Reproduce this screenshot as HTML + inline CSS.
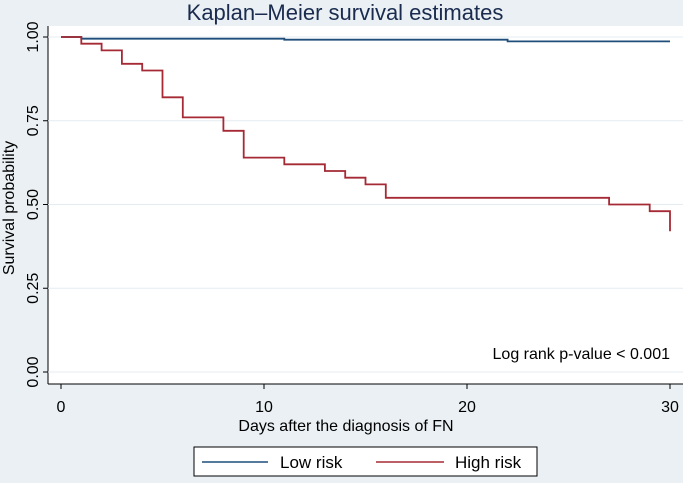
<!DOCTYPE html>
<html><head><meta charset="utf-8"><style>
body{margin:0;width:683px;height:478px;background:#eaf0f3;overflow:hidden;font-family:"Liberation Sans",sans-serif;}
</style></head><body>
<svg width="683" height="478" id="svg">
<rect x="48" y="26" width="635" height="358" fill="#fff"/>
<text x="345" y="20" text-anchor="middle" font-size="22" fill="#1a2b4f">Kaplan–Meier survival estimates</text>
<text transform="translate(14,208) rotate(-90)" text-anchor="middle" font-size="16" fill="#000">Survival probability</text>
<text x="346" y="431" text-anchor="middle" font-size="16" fill="#000">Days after the diagnosis of FN</text>
<text x="670" y="359" text-anchor="end" font-size="16" fill="#000">Log rank p-value &lt; 0.001</text>
<line x1="48" y1="26" x2="48" y2="384" stroke="#000" stroke-width="1"/>
<line x1="48" y1="384" x2="683" y2="384" stroke="#000" stroke-width="1"/>
<g id="grid"></g><g id="series"></g>
<g>
<rect x="194" y="447" width="343" height="29" fill="#fff" stroke="#000"/>
<line x1="202" y1="462" x2="268" y2="462" stroke="#1f4e7a" stroke-width="1.5"/>
<text x="280" y="468" font-size="17">Low risk</text>
<line x1="376" y1="462" x2="444" y2="462" stroke="#a52a35" stroke-width="1.5"/>
<text x="455" y="468" font-size="17">High risk</text>
</g>
</svg>
<script>
const xTicks=[0,10,20,30];
const yTicks=[0,0.25,0.5,0.75,1];
const yTickLabels=["0.00","0.25","0.50","0.75","1.00"];
const lowTimes=[0,1,11,22,30];
const lowSurv=[1,0.995,0.992,0.987,0.987];
const highTimes=[0,1,2,3,4,5,6,8,9,11,13,14,15,16,27,29,30];
const highSurv=[1,0.98,0.96,0.92,0.90,0.82,0.76,0.72,0.64,0.62,0.60,0.58,0.56,0.52,0.50,0.48,0.42];
const X=v=>61+v*(670-61)/30;
const Y=v=>372-v*(372-37);
const NS="http://www.w3.org/2000/svg";
const svg=document.getElementById('svg'),grid=document.getElementById('grid'),ser=document.getElementById('series');
function mk(t,a,p){const e=document.createElementNS(NS,t);for(const k in a)e.setAttribute(k,a[k]);(p||svg).appendChild(e);return e;}
yTicks.forEach((v,i)=>{
 const g=mk('line',{x1:48,x2:683,y1:Y(v),y2:Y(v),stroke:'#e4ecf1','stroke-width':1},grid);
 
 
 const t=mk('line',{x1:43,x2:48,y1:Y(v),y2:Y(v),stroke:'#000'});
 
 
 const l=mk('text',{transform:`translate(38,${Y(v)}) rotate(-90)`,'text-anchor':'middle','font-size':16});
 l.textContent=yTickLabels[i];
 
 
});
xTicks.forEach(v=>{
 const t=mk('line',{x1:X(v),x2:X(v),y1:384,y2:389,stroke:'#000'});
 
 
 const l=mk('text',{x:X(v),y:412,'text-anchor':'middle','font-size':16});
 l.textContent=v;
 
 
});
function stepPath(ts,ss){let d=`M${X(ts[0])},${Y(ss[0])}`;for(let i=1;i<ts.length;i++){d+=` H${X(ts[i])} V${Y(ss[i])}`;}return d;}
const lp=mk('path',{d:stepPath(lowTimes,lowSurv),fill:'none',stroke:'#1f4e7a','stroke-width':1.8},ser);


const hp=mk('path',{d:stepPath(highTimes,highSurv),fill:'none',stroke:'#a52a35','stroke-width':1.8},ser);


</script>
</body></html>
